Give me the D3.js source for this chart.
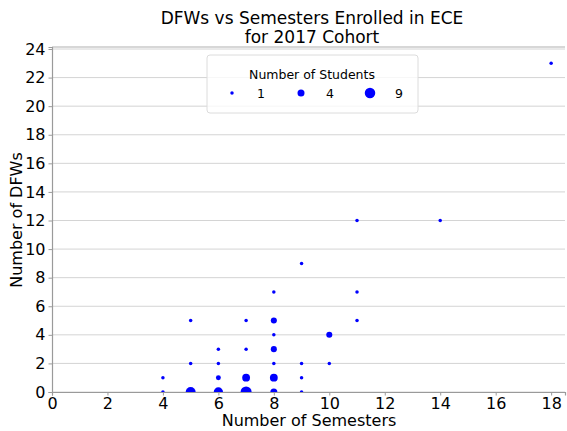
<!DOCTYPE html>
<html>
<head>
<meta charset="utf-8">
<script src="https://cdn.jsdelivr.net/npm/d3@7"></script>
<style>
  body { margin: 0; background: white; }
  svg { font-family: "DejaVu Sans", sans-serif; }
</style>
</head>
<body>
<svg id="chart" width="567" height="431"></svg>
<script>
// semesters enrolled, DFW count, number of students at that point
const semesters = [4, 4, 5, 5, 5, 6, 6, 6, 6, 7, 7, 7, 7, 8, 8, 8, 8, 8, 8, 8, 9, 9, 9, 9, 10, 10, 11, 11, 11, 14, 18];
const dfws      = [1, 0, 5, 2, 0, 3, 2, 1, 0, 5, 3, 1, 0, 7, 5, 4, 3, 2, 1, 0, 9, 2, 1, 0, 4, 2, 12, 7, 5, 12, 23];
const students  = [1, 1, 1, 1, 8, 1, 1, 2, 7, 1, 1, 5, 10, 1, 3, 1, 3, 1, 5, 4, 1, 1, 1, 1, 3, 1, 1, 1, 1, 1, 1];
const xTicks = [0, 2, 4, 6, 8, 10, 12, 14, 16, 18];
const yTicks = [0, 2, 4, 6, 8, 10, 12, 14, 16, 18, 20, 22, 24];
const legendSizes = [1, 4, 9];

const points = semesters.map((s, i) => ({ x: s, y: dfws[i], n: students[i] }));

const svg = d3.select('#chart');
const plotL = 52, plotR = 565, plotT = 47, plotB = 392;

const x = d3.scaleLinear().domain([0, 18.5]).range([plotL, plotR]);
const y = d3.scaleLinear().domain([0, 24.14]).range([plotB, plotT]);
const r = n => 1.75 * Math.sqrt(n);

// gridlines
svg.append('g')
  .selectAll('line')
  .data(yTicks)
  .enter().append('line')
  .attr('x1', plotL).attr('x2', plotR)
  .attr('y1', d => y(d)).attr('y2', d => y(d))
  .attr('stroke', '#d4d4d4')
  .attr('stroke-width', 1);

// top spine
svg.append('line').attr('x1', plotL).attr('x2', plotR).attr('y1', plotT).attr('y2', plotT)
  .attr('stroke', '#b0b0b0').attr('stroke-width', 1.2);

const xAxis = svg.append('g')
  .attr('transform', `translate(0,${plotB})`)
  .call(d3.axisBottom(x).tickValues(xTicks).tickFormat(d3.format('d')).tickSize(3.5).tickPadding(2));
const yAxis = svg.append('g')
  .attr('transform', `translate(${plotL},0)`)
  .call(d3.axisLeft(y).tickValues(yTicks).tickFormat(d3.format('d')).tickSize(3.5).tickPadding(3));

[xAxis, yAxis].forEach(ax => {
  ax.select('.domain').attr('stroke', '#9a9a9a').attr('stroke-width', 1.2);
  ax.selectAll('.tick line').attr('stroke', '#9a9a9a');
  ax.selectAll('.tick text').attr('fill', '#000').style('font-size', '16px').style('font-family', '"DejaVu Sans", sans-serif');
});

// points, clipped to axes
svg.append('clipPath').attr('id', 'plotClip')
  .append('rect').attr('x', plotL).attr('y', plotT).attr('width', plotR - plotL).attr('height', plotB - plotT);

svg.append('g')
  .attr('clip-path', 'url(#plotClip)')
  .selectAll('circle')
  .data(points)
  .enter().append('circle')
  .attr('cx', d => x(d.x))
  .attr('cy', d => y(d.y))
  .attr('r', d => r(d.n))
  .attr('fill', '#0000ff');

// title
const title = svg.append('text')
  .attr('text-anchor', 'middle')
  .style('font-size', '17px');
title.append('tspan').attr('x', 312).attr('y', 24).text('DFWs vs Semesters Enrolled in ECE');
title.append('tspan').attr('x', 312).attr('y', 43).text('for 2017 Cohort');

// axis labels
svg.append('text')
  .attr('x', 309).attr('y', 426)
  .attr('text-anchor', 'middle')
  .style('font-size', '16px')
  .text('Number of Semesters');
svg.append('text')
  .attr('transform', 'translate(22,220) rotate(-90)')
  .attr('text-anchor', 'middle')
  .style('font-size', '16px')
  .text('Number of DFWs');

// legend
const legend = svg.append('g');
legend.append('rect')
  .attr('x', 207).attr('y', 55).attr('width', 211).attr('height', 58)
  .attr('rx', 3)
  .attr('fill', 'white').attr('fill-opacity', 0.8)
  .attr('stroke', '#dcdcdc');
legend.append('text')
  .attr('x', 312).attr('y', 79)
  .attr('text-anchor', 'middle')
  .style('font-size', '12.5px')
  .text('Number of Students');

const legendX = d3.scalePoint().domain(legendSizes).range([232, 370]);
const item = legend.selectAll('.item')
  .data(legendSizes)
  .enter().append('g')
  .attr('class', 'item');
item.append('circle')
  .attr('cx', d => legendX(d)).attr('cy', 93)
  .attr('r', d => r(d))
  .attr('fill', '#0000ff');
item.append('text')
  .attr('x', d => legendX(d) + 29).attr('y', 98)
  .attr('text-anchor', 'middle')
  .style('font-size', '12.5px')
  .text(d => d);
</script>
</body>
</html>
